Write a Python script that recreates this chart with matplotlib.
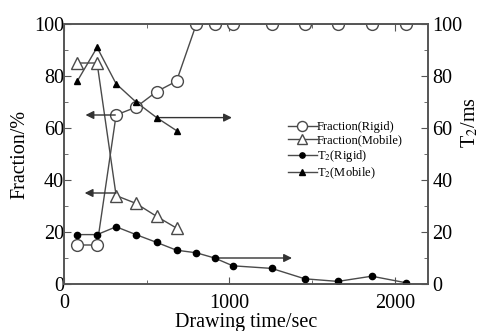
import matplotlib
matplotlib.use("Agg")
import matplotlib.pyplot as plt
from matplotlib.ticker import MultipleLocator

plt.rcParams["font.family"] = ["Liberation Serif", "DejaVu Serif"]
plt.rcParams["mathtext.fontset"] = "stix"

# drawing time (s) for each measurement
t_all = [80, 200, 315, 435, 560, 680, 800, 910, 1020, 1255, 1455, 1655, 1860, 2065]
t_mob = [80, 200, 315, 435, 560, 680]

frac_rigid = [15, 15, 65, 68, 74, 78, 100, 100, 100, 100, 100, 100, 100, 100]
frac_mobile = [85, 85, 34, 31, 26, 21.5]
t2_rigid = [19, 19, 22, 19, 16, 13, 12, 10, 7, 6, 2, 1, 3, 0.5]
t2_mobile = [78, 91, 77, 70, 64, 59]

# (tail, tip, y) for the arrows pointing at the relevant axis
arrows_left = [(310, 130, 65), (315, 125, 35)]
arrows_right = [(560, 1015, 64), (918, 1378, 10)]

ink = "#4a4a4a"

fig = plt.figure(figsize=(4.81, 3.31), dpi=100)
ax = fig.add_axes([64 / 481, 47 / 331, 364 / 481, 260 / 331])
ax2 = ax.twinx()

l1, = ax.plot(t_all, frac_rigid, "-o", color=ink, lw=1.0, ms=8.5,
              mfc="white", mec=ink, mew=1.0, label="Fraction(Rigid)")
l2, = ax.plot(t_mob, frac_mobile, "-^", color=ink, lw=1.0, ms=9,
              mfc="white", mec=ink, mew=1.0, label="Fraction(Mobile)")
l3, = ax2.plot(t_all, t2_rigid, "-o", color=ink, lw=1.0, ms=4.5,
               mfc="black", mec="black", label="T$_2$(Rigid)")
l4, = ax2.plot(t_mob, t2_mobile, "-^", color=ink, lw=1.0, ms=5,
               mfc="black", mec="black", label="T$_2$(Mobile)")

for x0, x1, y in arrows_left + arrows_right:
    ax.annotate("", xy=(x1, y), xytext=(x0, y),
                arrowprops=dict(arrowstyle="-|>", color="#333333", lw=1.0,
                                mutation_scale=12, shrinkA=0, shrinkB=0))

ax.set_xlim(0, 2200)
ax.set_ylim(0, 100)
ax2.set_ylim(0, 100)

ax.xaxis.set_major_locator(MultipleLocator(1000))
ax.xaxis.set_minor_locator(MultipleLocator(500))
for a in (ax, ax2):
    a.yaxis.set_major_locator(MultipleLocator(20))
    a.yaxis.set_minor_locator(MultipleLocator(10))
    for s in a.spines.values():
        s.set_color("#555555")
        s.set_linewidth(1.2)

ax.tick_params(axis="x", which="both", direction="in", top=True, colors="#555555",
               labelcolor="black", labelsize=14.5, pad=7)
ax.tick_params(axis="x", which="major", length=5)
ax.tick_params(axis="x", which="minor", length=3)
ax.tick_params(axis="y", which="both", direction="in", colors="#555555",
               labelcolor="black", labelsize=14.5, pad=0)
ax.tick_params(axis="y", which="major", length=5)
ax.tick_params(axis="y", which="minor", length=3)
ax2.tick_params(axis="y", which="both", direction="in", colors="#555555",
                labelcolor="black", labelsize=14.5, pad=3)
ax2.tick_params(axis="y", which="major", length=5)
ax2.tick_params(axis="y", which="minor", length=3)

ax.set_xlabel("Drawing time/sec", fontsize=14.5, labelpad=0)
ax.set_ylabel("Fraction/%", fontsize=14.5, labelpad=3)
fig.text(0.976, 0.63, "T$_2$/ms", rotation=90, fontsize=14.5,
         ha="center", va="center")

ax2.legend(handles=[l1, l2, l3, l4], loc="upper left",
           bbox_to_anchor=(288 / 481, 1 - 121 / 331),
           bbox_transform=fig.transFigure, frameon=False, fontsize=9,
           handlelength=2.3, handletextpad=0.0, labelspacing=0.12,
           markerscale=0.85, borderpad=0, borderaxespad=0)

fig.savefig("out.png", dpi=100)
